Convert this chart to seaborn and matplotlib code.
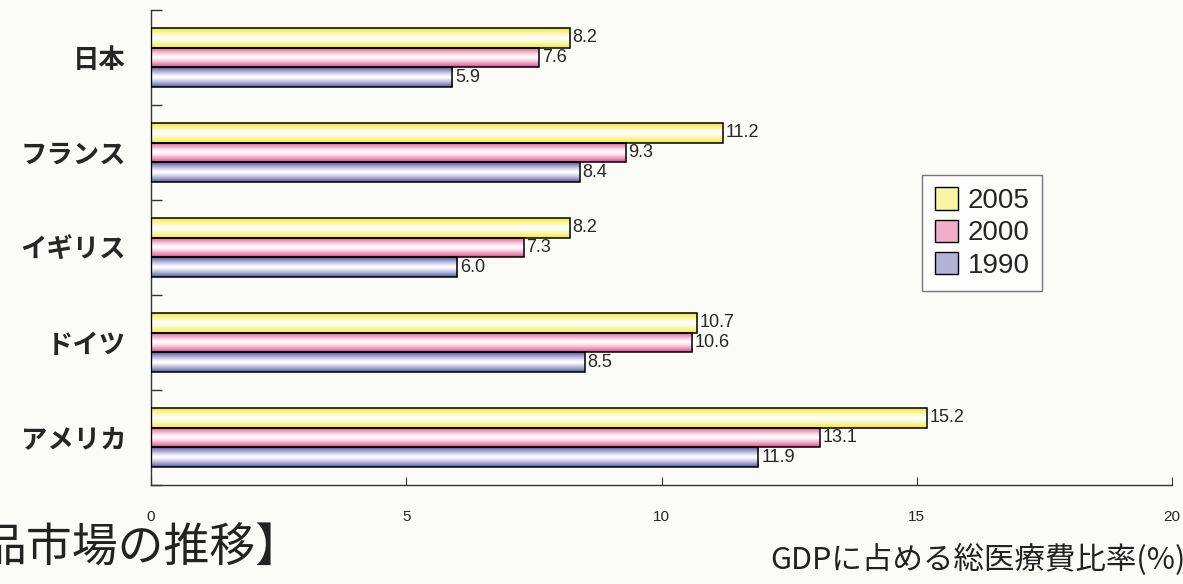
import numpy as np
import pandas as pd
import matplotlib
matplotlib.use("Agg")
import matplotlib.pyplot as plt
import seaborn as sns
from matplotlib import font_manager
from matplotlib.colors import to_rgb
from matplotlib.patches import Patch

# データ（GDPに占める総医療費比率 %）
countries = ["日本", "フランス", "イギリス", "ドイツ", "アメリカ"]
years = ["2005", "2000", "1990"]
v2005 = [8.2, 11.2, 8.2, 10.7, 15.2]
v2000 = [7.6, 9.3, 7.3, 10.6, 13.1]
v1990 = [5.9, 8.4, 6.0, 8.5, 11.9]
x_ticks = [0, 5, 10, 15, 20]

bar_colors = {"2005": "#f0ea30", "2000": "#df4a88", "1990": "#5656a4"}

sns.set_style("white")
plt.rcParams["font.family"] = ["Noto Sans CJK JP", "DejaVu Sans"]
names = {f.name for f in font_manager.fontManager.ttflist}
narrow = "Liberation Sans Narrow" if "Liberation Sans Narrow" in names else "Liberation Sans"

df = pd.DataFrame({
    "国": countries * 3,
    "年": [y for y in years for _ in countries],
    "値": v2005 + v2000 + v1990,
})

W, H = 1183, 584
bg = "#fbfbf8"
fig = plt.figure(figsize=(W / 100, H / 100), dpi=100, facecolor=bg)
ax = fig.add_axes([151 / W, 1 - 485 / H, (1172 - 151) / W, (485 - 10) / H])
ax.set_facecolor(bg)

sns.barplot(data=df, y="国", x="値", hue="年", order=countries, hue_order=years,
            palette=bar_colors, orient="h", width=0.63, edgecolor="black",
            linewidth=1.1, legend=False, ax=ax)

# グラデーション（中央が白）
t = np.linspace(0, 1, 64)
prof = np.abs(2 * t - 1) ** 1.3
for cont, yr in zip(ax.containers, years):
    c = np.array(to_rgb(bar_colors[yr]))
    grad = (1 - prof[:, None]) * np.ones(3) + prof[:, None] * c
    grad = np.repeat(grad[:, None, :], 2, axis=1)
    for bar in cont:
        x0, y0 = bar.get_xy()
        w, h = bar.get_width(), bar.get_height()
        im = ax.imshow(grad, extent=[x0, x0 + w, y0, y0 + h], aspect="auto",
                       interpolation="bilinear", zorder=2)
        im.set_clip_path(bar)
        bar.set_facecolor("none")
        bar.set_zorder(3)
    ax.bar_label(cont, fmt="%.1f", padding=2, fontsize=13, family=narrow)

ax.set_xlim(0, 20)
ax.set_ylim(4.5, -0.5)
ax.set_xlabel("")
ax.set_ylabel("")
ax.set_xticks(x_ticks)
ax.set_xticklabels([str(v) for v in x_ticks], family=narrow, fontsize=11)
ax.tick_params(axis="x", bottom=True, direction="in", length=6, pad=18, color="#333")
ax.tick_params(axis="y", which="major", left=True, length=0, pad=18, labelsize=19)
for lab in ax.get_yticklabels():
    lab.set_fontweight("bold")
ax.set_yticks(np.arange(-0.5, 5, 1), minor=True)
ax.tick_params(axis="y", which="minor", left=True, direction="in", length=8,
               width=1, color="#333")
for s in ["top", "right"]:
    ax.spines[s].set_visible(False)
for s in ["left", "bottom"]:
    ax.spines[s].set_color("#333")
    ax.spines[s].set_linewidth(1)

# 凡例
handles = []
for yr in years:
    c = np.array(to_rgb(bar_colors[yr]))
    handles.append(Patch(facecolor=0.55 * np.ones(3) + 0.45 * c, edgecolor="black", linewidth=1))
fig.legend(handles, years, loc="upper left", bbox_to_anchor=(922 / W, 1 - 175 / H),
           frameon=True, fancybox=False, edgecolor="#555", facecolor="white",
           prop=dict(family="Liberation Sans", size=20), handlelength=0.85,
           handleheight=0.85, handletextpad=0.35, borderpad=0.45, labelspacing=0.2,
           borderaxespad=0)

fig.text(770 / W, 1 - 560 / H, "GDPに占める総医療費比率(%)", fontsize=22,
         va="center", ha="left", color="#222")
fig.text(-20 / W, 1 - 548 / H, "品市場の推移】", fontsize=33, va="center",
         ha="left", color="#222")

fig.savefig("out.png", dpi=100, facecolor=bg)
